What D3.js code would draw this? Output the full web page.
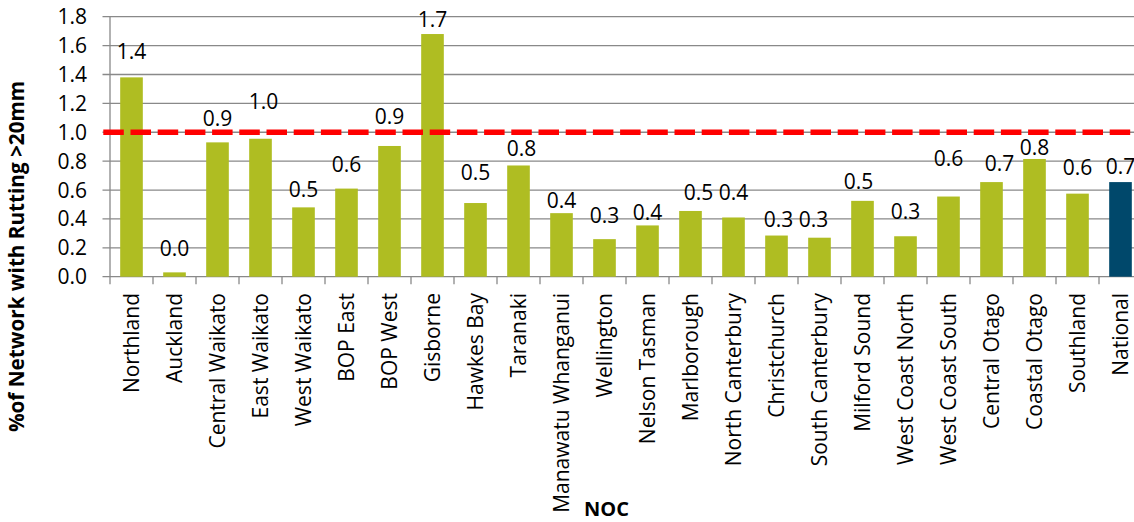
<!DOCTYPE html>
<html>
<head>
<meta charset="utf-8">
<script src="https://cdn.jsdelivr.net/npm/d3@7"></script>
<style>
  html, body { margin: 0; padding: 0; background: #fff; }
  svg { display: block; overflow: hidden; }
  text { font-family: "Open Sans", "Noto Sans", sans-serif; fill: #000; }
</style>
</head>
<body>
<svg id="chart" width="1134" height="522"></svg>
<script>
// Network operating contracts (NOC) and share of network with rutting > 20mm
const categories = [
  "Northland", "Auckland", "Central Waikato", "East Waikato", "West Waikato",
  "BOP East", "BOP West", "Gisborne", "Hawkes Bay", "Taranaki",
  "Manawatu Whanganui", "Wellington", "Nelson Tasman", "Marlborough",
  "North Canterbury", "Christchurch", "South Canterbury", "Milford Sound",
  "West Coast North", "West Coast South", "Central Otago", "Coastal Otago",
  "Southland", "National"
];
const rutting = [
  1.38, 0.03, 0.93, 0.955, 0.48,
  0.61, 0.905, 1.68, 0.51, 0.77,
  0.44, 0.26, 0.355, 0.455,
  0.41, 0.285, 0.27, 0.525,
  0.28, 0.555, 0.655, 0.815,
  0.575, 0.655
];
const threshold = 1.0;
const yTicks = [0, 0.2, 0.4, 0.6, 0.8, 1.0, 1.2, 1.4, 1.6, 1.8];

// hand-placed data label nudges (px): height of label centre above bar top, horizontal shift
const labelRise = [26, 24, 24, 37, 18, 24, 29, 15, 31, 17, 13, 24, 13, 18, 25, 16, 18, 19, 25, 38, 19, 11, 26, 16];
const labelShift = [0, 0, 0, 3, 0, 0, 0, 0, 0, 3, 0, 0, 0, 8, 0, 2, -6, -4, 0, 0, 8, 0, 0, 0];

const svg = d3.select("#chart");
const plotLeft = 110, plotRight = 1142, plotTop = 16.7, plotBottom = 276.7;
const gap = 0.9;
const fontSize = 21;

const x = d3.scaleBand()
  .domain(categories)
  .range([plotLeft, plotRight])
  .paddingInner(gap / (1 + gap))
  .paddingOuter(gap / (1 + gap) / 2);

const y = d3.scaleLinear().domain([0, 1.8]).range([plotBottom, plotTop]);

const gridColor = "#898989";

// horizontal gridlines, extended left as tick marks
svg.append("g").selectAll("line")
  .data(yTicks)
  .join("line")
  .attr("x1", plotLeft - 7.5).attr("x2", 1134)
  .attr("y1", d => y(d)).attr("y2", d => y(d))
  .attr("stroke", gridColor).attr("stroke-width", 1.3);

// y axis line
svg.append("line")
  .attr("x1", plotLeft).attr("x2", plotLeft)
  .attr("y1", plotTop).attr("y2", plotBottom)
  .attr("stroke", gridColor).attr("stroke-width", 1.3);

// x axis category boundary ticks
const bounds = categories.map(c => x(c) - x.step() * x.paddingInner() / 2);
svg.append("g").selectAll("line")
  .data(bounds)
  .join("line")
  .attr("x1", d => d).attr("x2", d => d)
  .attr("y1", plotBottom).attr("y2", plotBottom + 7.5)
  .attr("stroke", gridColor).attr("stroke-width", 1.3);

// y tick labels
svg.append("g").selectAll("text")
  .data(yTicks)
  .join("text")
  .attr("x", 87)
  .attr("y", d => y(d) + 7.5)
  .attr("text-anchor", "end")
  .attr("font-size", fontSize)
  .text(d => d3.format(".1f")(d));

// bars
svg.append("g").selectAll("rect")
  .data(categories)
  .join("rect")
  .attr("x", d => x(d))
  .attr("width", x.bandwidth())
  .attr("y", (d, i) => y(rutting[i]))
  .attr("height", (d, i) => y(0) - y(rutting[i]))
  .attr("fill", d => d === "National" ? "#00486b" : "#afbd22");

// threshold line
svg.append("line")
  .attr("x1", 103.3).attr("x2", 1134)
  .attr("y1", y(threshold)).attr("y2", y(threshold))
  .attr("stroke", "#ff0000")
  .attr("stroke-width", 5.5)
  .attr("stroke-dasharray", "20.5 6.7");

// data labels
svg.append("g").selectAll("text")
  .data(categories)
  .join("text")
  .attr("x", (d, i) => x(d) + x.bandwidth() / 2 + labelShift[i])
  .attr("y", (d, i) => y(rutting[i]) - labelRise[i] + 7.5)
  .attr("text-anchor", "middle")
  .attr("font-size", fontSize)
  .text((d, i) => d3.format(".1f")(rutting[i]));

// category labels, rotated
svg.append("g").selectAll("text")
  .data(categories)
  .join("text")
  .attr("transform", d => `translate(${x(d) + x.bandwidth() / 2 + 7.5},293) rotate(-90)`)
  .attr("text-anchor", "end")
  .attr("font-size", fontSize)
  .text(d => d);

// axis titles
svg.append("text")
  .attr("transform", "translate(24,256.5) rotate(-90)")
  .attr("text-anchor", "middle")
  .attr("font-size", 20.7)
  .attr("font-weight", "bold")
  .text("%of Network with Rutting >20mm");

svg.append("text")
  .attr("x", 606.5)
  .attr("y", 516)
  .attr("text-anchor", "middle")
  .attr("font-size", 20)
  .attr("font-weight", "bold")
  .text("NOC");
</script>
</body>
</html>
